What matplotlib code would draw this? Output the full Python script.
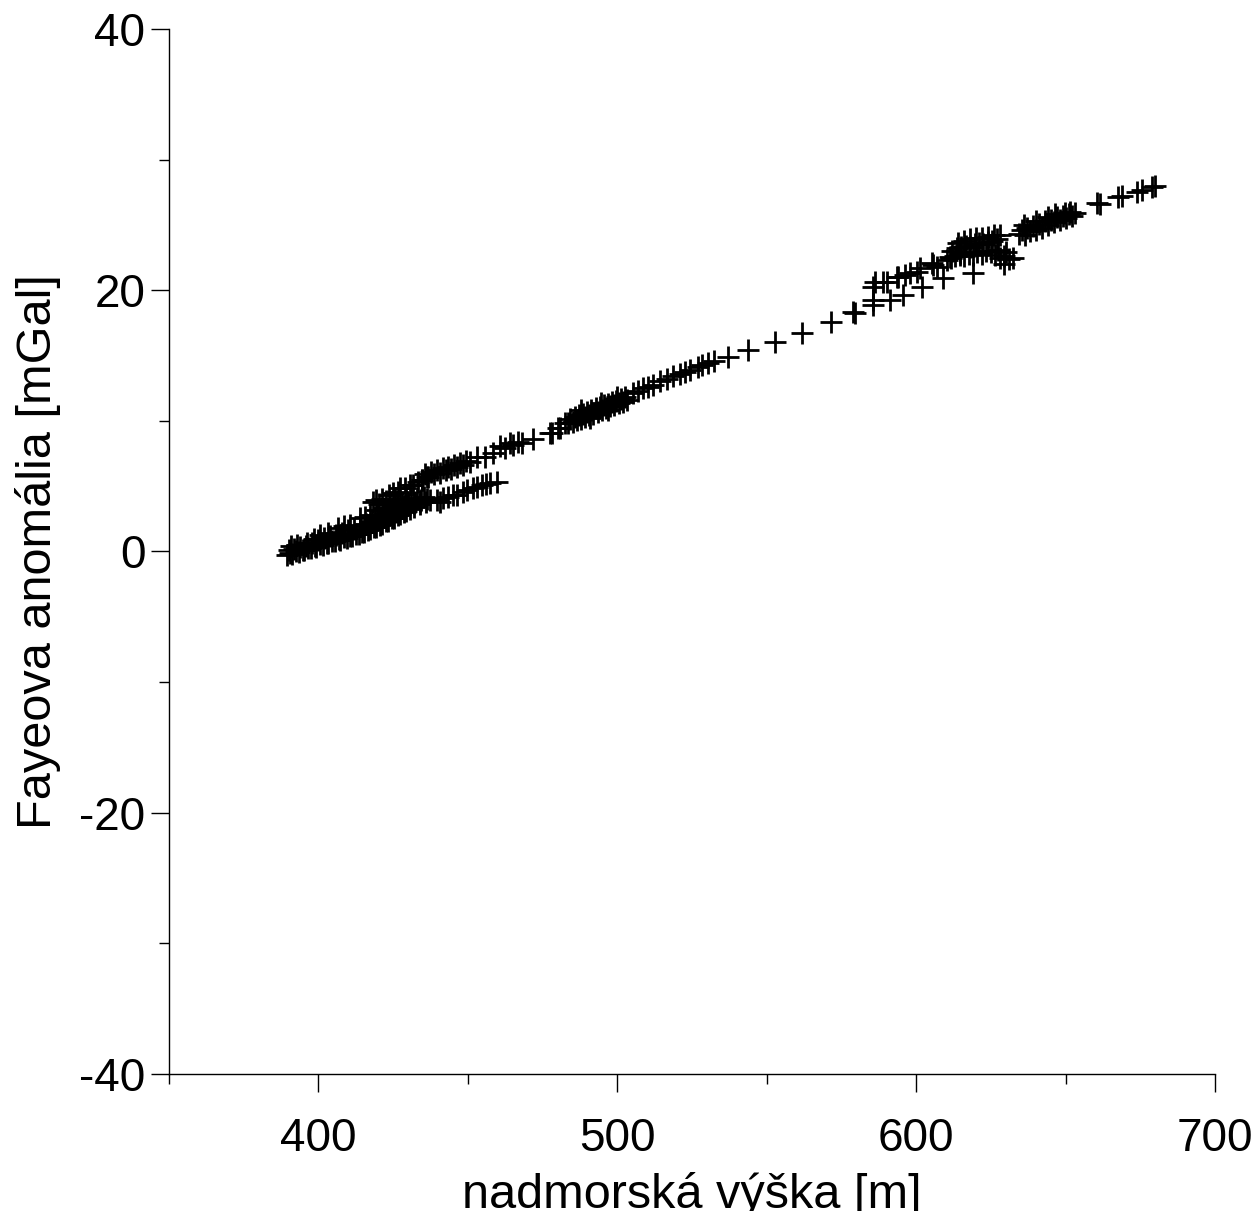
import matplotlib
matplotlib.use("Agg")
import matplotlib.pyplot as plt
from matplotlib.ticker import MultipleLocator
import numpy as np

plt.rcParams['font.family'] = ['Liberation Sans', 'DejaVu Sans']
plt.rcParams['axes.unicode_minus'] = False

# lower band, bottom row (x in m, y in mGal)
band_low_x = [389.3, 390.4, 391.2, 392.6, 393.4, 394.7, 395.3, 396.6, 397.4, 398.7,
              399.3, 400.6, 401.4, 402.7, 403.3, 404.6, 405.4, 406.7, 407.3, 408.6,
              409.4, 410.7, 411.3, 412.6, 413.4, 414.7, 415.3, 416.6, 417.4, 418.7,
              419.3, 420.6, 421.4, 422.7, 423.3, 424.6, 425.4, 426.7, 427.3, 428.6,
              429.4, 430.7, 432.1, 433.8, 435.9]
band_low_y = [-0.25, -0.12, -0.18, 0.02, -0.02, 0.15, 0.10, 0.30, 0.25, 0.42,
              0.38, 0.55, 0.52, 0.68, 0.64, 0.80, 0.78, 0.95, 0.90, 1.08,
              1.05, 1.22, 1.18, 1.36, 1.34, 1.52, 1.50, 1.68, 1.70, 1.88,
              1.86, 2.06, 2.10, 2.33, 2.36, 2.58, 2.60, 2.82, 2.84, 3.05,
              3.08, 3.28, 3.38, 3.62, 3.76]

# lower band, middle and top rows
band_mid_x = [390.0, 391.8, 393.9, 395.9, 397.9, 399.8, 401.9, 403.9, 405.9, 407.8,
              409.9, 411.8, 413.9, 415.8, 417.9, 419.8, 421.9, 423.8, 425.9, 427.8,
              429.9, 431.8, 433.9]
band_mid_y = [0.15, 0.22, 0.35, 0.45, 0.65, 0.85, 1.00, 1.15, 1.30, 1.45,
              1.62, 1.75, 1.92, 2.08, 2.30, 2.50, 2.70, 2.92, 3.12, 3.32,
              3.55, 3.72, 3.90]
band_top_x = [390.8, 392.8, 396.2, 398.4, 400.5, 403.2, 406.5, 408.6, 410.6, 413.9,
              415.5, 417.2, 419.6]
band_top_y = [0.42, 0.50, 0.65, 0.95, 1.26, 1.42, 1.80, 1.92, 2.03, 2.57,
              2.62, 2.80, 3.18]

# dense blob where the two branches meet
blob_x = [418.2, 419.4, 420.3, 421.1, 421.8, 422.6, 423.2, 424.0, 424.8, 425.5,
          426.3, 427.0, 427.8, 428.6, 429.3, 430.1, 431.0, 432.2, 433.1, 434.3,
          435.2, 436.4, 420.0, 422.0, 424.4, 426.0, 419.0, 421.0]
blob_y = [3.80, 3.95, 3.60, 4.05, 3.30, 3.85, 3.10, 3.65, 3.35, 3.95,
          3.50, 3.20, 3.75, 3.45, 4.00, 3.70, 3.95, 3.80, 4.10, 3.95,
          4.15, 4.00, 2.80, 2.90, 3.00, 3.05, 2.45, 2.60]

# lower branch ending near 460 m
arm_low_x = [437.3, 439.6, 440.7, 441.7, 443.3, 445.0, 446.4, 448.4, 449.8, 451.7,
             452.9, 454.7, 456.0, 457.4, 459.7]
arm_low_y = [3.94, 3.94, 3.79, 4.10, 4.17, 4.33, 4.33, 4.56, 4.70, 4.86,
             4.95, 5.09, 5.15, 5.24, 5.32]

# upper branch
arm_up_x = [423.5, 425.0, 426.6, 427.3, 429.0, 430.6, 431.6, 433.3, 434.6, 436.3,
            434.5, 435.5, 436.5, 437.5, 438.5, 439.5, 440.5, 441.5, 442.5, 443.5,
            444.5, 445.5, 446.5, 447.5, 448.5, 449.5, 450.7, 453.0]
arm_up_y = [4.30, 4.45, 4.56, 4.86, 4.86, 5.09, 5.09, 5.32, 5.47, 5.70,
            5.50, 5.90, 5.70, 6.10, 5.90, 6.20, 6.00, 6.40, 6.20, 6.50,
            6.30, 6.60, 6.50, 6.80, 6.60, 6.90, 6.85, 7.24]

# main trend between 455 and 483 m
line_a_x = [455.7, 458.4, 460.7, 462.4, 464.1, 465.1, 466.8, 468.1, 471.8, 477.5,
            478.1, 480.1, 480.8, 482.5]
line_a_y = [7.24, 7.54, 8.10, 7.92, 8.31, 8.15, 8.38, 8.31, 8.62, 9.07,
            9.10, 9.46, 9.46, 9.84]

# dense cluster near 490-503 m
mid_x = [483.6, 484.3, 485.0, 485.7, 486.4, 487.1, 487.8, 488.5, 489.2, 489.9,
         490.6, 491.3, 492.0, 492.7, 493.4, 494.1, 494.8, 495.5, 496.2, 496.9,
         497.6, 498.3, 499.0, 499.7, 500.4, 501.1, 501.8, 502.6, 503.3, 488.0,
         491.0, 494.5, 497.0, 500.0]
mid_y = [9.85, 10.15, 9.90, 10.30, 10.05, 10.42, 10.18, 10.55, 10.30, 10.68,
         10.45, 10.80, 10.55, 10.95, 10.70, 11.05, 10.85, 11.20, 10.95, 11.30,
         11.10, 11.45, 11.20, 11.55, 11.35, 11.65, 11.45, 11.80, 11.60, 10.80,
         10.20, 11.35, 10.80, 11.80]

# sparse trend 505-580 m
line_b_x = [505.2, 507.0, 508.6, 510.2, 511.9, 514.3, 516.6, 518.6, 521.0, 522.5,
            524.3, 527.0, 528.2, 530.3, 532.3, 537.0, 543.8, 552.8, 561.8, 571.5,
            578.8]
line_b_y = [12.10, 12.30, 12.50, 12.62, 12.75, 13.05, 13.20, 13.45, 13.55, 13.75,
            13.90, 14.15, 14.25, 14.45, 14.60, 14.89, 15.43, 16.04, 16.73, 17.57,
            18.34]

# upper right: two rows 585-615 m
hi_row_x = [579.5, 585.5, 585.5, 591.2, 595.6, 601.9, 609.0, 619.0, 629.5,
            585.5, 586.2, 588.9, 590.2, 593.6, 593.9, 596.2, 597.9, 600.2, 601.3,
            605.3, 605.6, 606.9, 610.3, 611.3, 614.6]
hi_row_y = [18.26, 18.87, 19.26, 19.26, 19.64, 20.25, 20.94, 21.32, 22.00,
            20.25, 20.63, 20.63, 20.64, 21.02, 21.02, 21.17, 21.32, 21.40, 21.71,
            22.09, 21.94, 21.78, 22.32, 22.55, 22.86]

# upper right: cluster 611-633 m
c1_x = [611.5, 613.0, 614.5, 616.0, 617.5, 619.0, 620.5, 622.0, 623.5, 625.0,
        626.5, 628.0, 629.5, 631.0, 632.5, 630.0, 627.5,
        612.0, 613.5, 615.0, 616.5, 618.0, 619.5, 621.0, 622.5, 624.0, 625.5, 627.0,
        614.0, 616.0, 618.0, 620.0, 622.0, 624.0, 626.0, 628.0]
c1_y = [22.50, 22.60, 22.70, 22.60, 22.80, 22.70, 22.90, 22.80, 23.00, 22.90,
        22.70, 22.50, 22.60, 22.40, 22.50, 22.90, 23.10,
        23.00, 23.20, 23.30, 23.40, 23.30, 23.50, 23.60, 23.50, 23.70, 23.80, 23.90,
        23.60, 23.80, 23.90, 24.00, 24.00, 24.10, 24.20, 24.20]

# upper right: cluster 634-653 m
c2_x = [634.5, 635.5, 636.5, 637.0, 638.0, 639.0, 640.0, 641.0, 642.0, 643.0,
        644.0, 645.0, 646.0, 647.0, 648.0, 649.0, 650.0, 651.0, 652.0, 636.0,
        640.0, 644.0, 646.4, 649.7, 651.4, 653.0]
c2_y = [24.30, 24.60, 24.20, 24.80, 24.50, 24.90, 24.60, 25.10, 24.80, 25.30,
        25.00, 25.40, 25.20, 25.60, 25.40, 25.70, 25.50, 25.80, 25.70, 25.00,
        25.30, 25.60, 25.80, 25.90, 26.00, 25.90]

# highest elevations
tail_x = [660.5, 661.5, 667.5, 668.8, 673.9, 675.5, 678.9, 679.9]
tail_y = [26.70, 26.60, 27.10, 27.20, 27.50, 27.70, 27.90, 28.00]

xs = band_low_x + band_mid_x + band_top_x + blob_x + arm_low_x + arm_up_x + \
    line_a_x + mid_x + line_b_x + hi_row_x + c1_x + c2_x + tail_x
ys = band_low_y + band_mid_y + band_top_y + blob_y + arm_low_y + arm_up_y + \
    line_a_y + mid_y + line_b_y + hi_row_y + c1_y + c2_y + tail_y

fig = plt.figure(figsize=(12.55, 12.11), dpi=100)
ax = fig.add_axes([0.1347, 0.1131, 0.8335, 0.8630])
ax.plot(np.array(xs), np.array(ys), '+', color='black', ms=16, mew=2.0)

ax.set_xlim(350, 700)
ax.set_ylim(-40, 40)
ax.xaxis.set_major_locator(MultipleLocator(100))
ax.xaxis.set_minor_locator(MultipleLocator(50))
ax.yaxis.set_major_locator(MultipleLocator(20))
ax.yaxis.set_minor_locator(MultipleLocator(10))

for s in ['top', 'right']:
    ax.spines[s].set_visible(False)
for s in ['left', 'bottom']:
    ax.spines[s].set_linewidth(1.0)

ax.tick_params(which='major', direction='out', length=13, width=1.0, labelsize=33)
ax.tick_params(which='minor', direction='out', length=7, width=1.0)
ax.tick_params(axis='x', which='major', pad=18)
ax.tick_params(axis='y', which='major', pad=4)

ax.set_xlabel('nadmorská výška [m]', fontsize=35)
ax.set_ylabel('Fayeova anomália [mGal]', fontsize=35)
ax.xaxis.set_label_coords(0.5, -0.094)
ax.yaxis.set_label_coords(-0.103, 0.5)

fig.savefig('out.png', dpi=100)
